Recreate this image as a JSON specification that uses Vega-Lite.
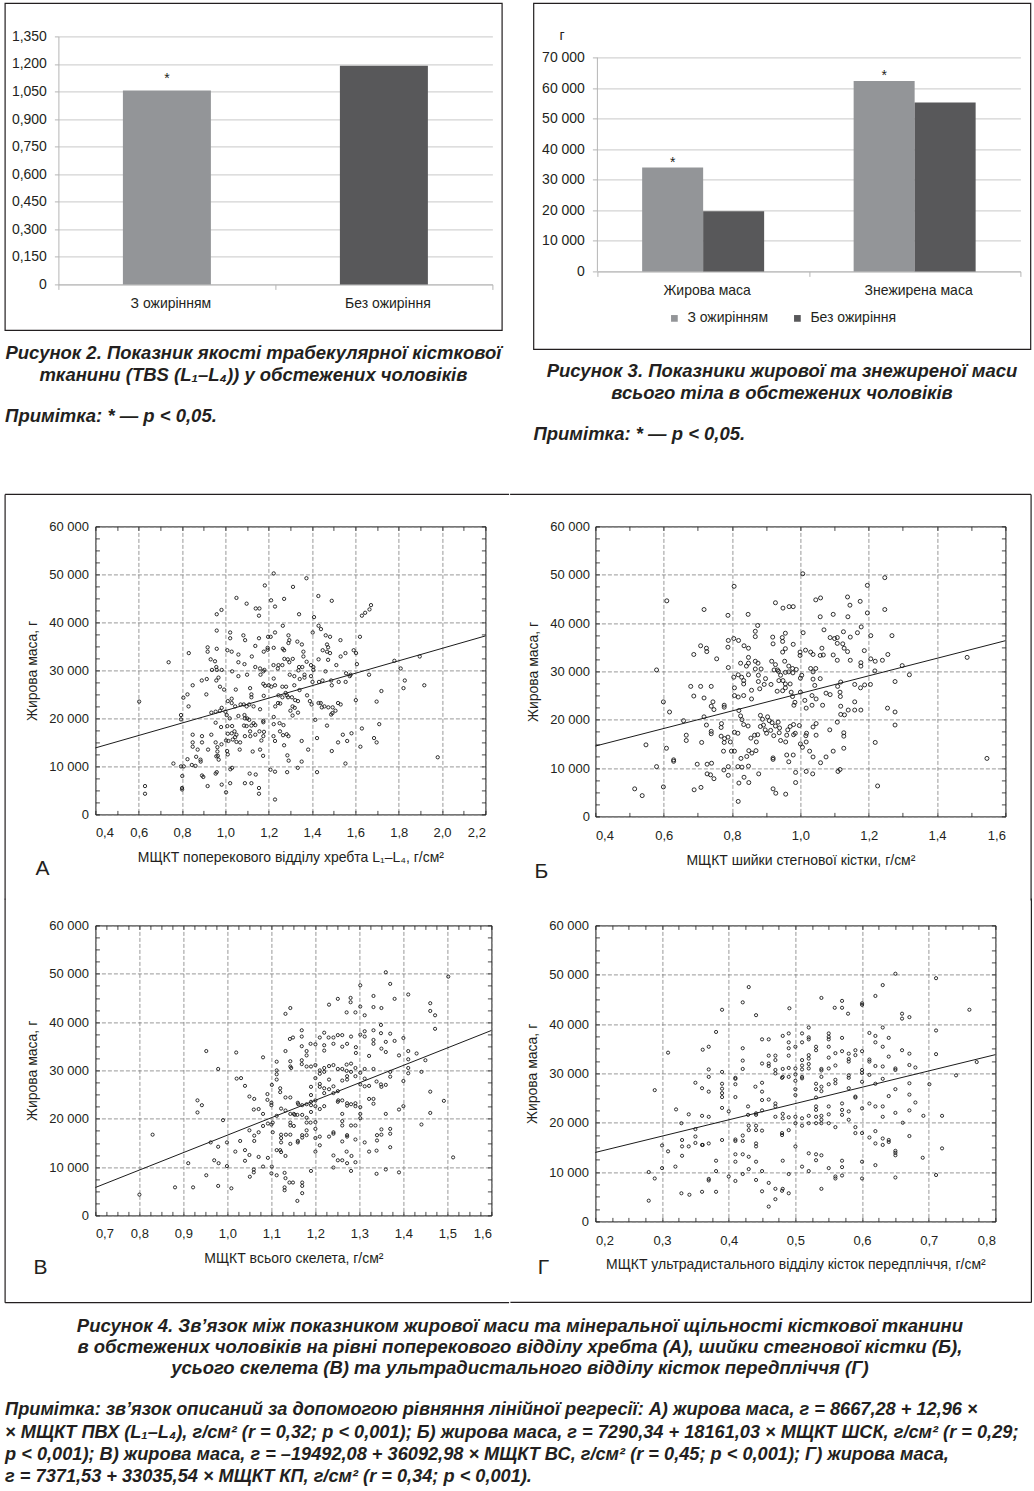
{
"$schema":"https://vega.github.io/schema/vega-lite/v6.json",
"background":"white",
"padding":{"left":3.4,"top":2.4,"right":4,"bottom":4},
"spacing":48,
"datasets":{
"A":[{"x":1.223,"y":50200},{"x":1.374,"y":49200},{"x":1.182,"y":47700},{"x":1.312,"y":47400},{"x":1.051,"y":45100},{"x":1.098,"y":43900},{"x":1.14,"y":42900},{"x":1.157,"y":42900},{"x":1.155,"y":41400},{"x":1.211,"y":44600},{"x":1.229,"y":43300},{"x":1.271,"y":44900},{"x":1.429,"y":45500},{"x":1.491,"y":44500},{"x":1.34,"y":41700},{"x":0.96,"y":41700},{"x":0.982,"y":42600},{"x":1.672,"y":43600},{"x":1.665,"y":42700},{"x":1.645,"y":42000},{"x":1.63,"y":41400},{"x":1.409,"y":41100},{"x":1.265,"y":39300},{"x":1.43,"y":39300},{"x":1.441,"y":38600},{"x":1.403,"y":37900},{"x":0.96,"y":38300},{"x":1.022,"y":37900},{"x":1.022,"y":36700},{"x":1.083,"y":37300},{"x":1.091,"y":36300},{"x":1.155,"y":36700},{"x":1.197,"y":37000},{"x":1.209,"y":37000},{"x":1.229,"y":37900},{"x":1.291,"y":37300},{"x":1.295,"y":36300},{"x":1.291,"y":35700},{"x":1.332,"y":36000},{"x":1.353,"y":35400},{"x":1.463,"y":37300},{"x":1.483,"y":37000},{"x":1.531,"y":36300},{"x":1.469,"y":35400},{"x":1.474,"y":34800},{"x":1.621,"y":37000},{"x":0.918,"y":34800},{"x":0.918,"y":33900},{"x":0.96,"y":34500},{"x":0.831,"y":33600},{"x":1.009,"y":34200},{"x":1.029,"y":33900},{"x":1.138,"y":35100},{"x":1.177,"y":33900},{"x":1.195,"y":34700},{"x":1.195,"y":34300},{"x":1.223,"y":34700},{"x":1.265,"y":34500},{"x":1.271,"y":34200},{"x":1.311,"y":32400},{"x":1.288,"y":32300},{"x":1.36,"y":33900},{"x":1.36,"y":32900},{"x":1.375,"y":31800},{"x":1.449,"y":34200},{"x":1.469,"y":33900},{"x":1.483,"y":33600},{"x":1.532,"y":32900},{"x":1.554,"y":33600},{"x":1.592,"y":34200},{"x":1.603,"y":33600},{"x":1.474,"y":32200},{"x":1.43,"y":32300},{"x":1.06,"y":33300},{"x":1.122,"y":32900},{"x":0.932,"y":32300},{"x":0.952,"y":31900},{"x":0.738,"y":31700},{"x":1.06,"y":31700},{"x":1.088,"y":31300},{"x":1.222,"y":31100},{"x":1.245,"y":31100},{"x":1.263,"y":31100},{"x":1.242,"y":30400},{"x":1.272,"y":32400},{"x":1.295,"y":31700},{"x":1.34,"y":30700},{"x":1.355,"y":30700},{"x":1.337,"y":30000},{"x":1.395,"y":31100},{"x":1.406,"y":30700},{"x":1.406,"y":30100},{"x":1.512,"y":31100},{"x":1.607,"y":31300},{"x":1.78,"y":32000},{"x":1.897,"y":32900},{"x":1.809,"y":30400},{"x":0.958,"y":30700},{"x":0.96,"y":30100},{"x":0.938,"y":30100},{"x":0.983,"y":30100},{"x":1.031,"y":29800},{"x":1.138,"y":30700},{"x":1.16,"y":30400},{"x":1.18,"y":30100},{"x":1.162,"y":29100},{"x":1.175,"y":29800},{"x":1.06,"y":28800},{"x":1.1,"y":29100},{"x":1.297,"y":29100},{"x":1.318,"y":28800},{"x":1.365,"y":29100},{"x":1.395,"y":28800},{"x":1.462,"y":29800},{"x":1.557,"y":29400},{"x":1.574,"y":28800},{"x":1.578,"y":29100},{"x":1.663,"y":29100},{"x":0.968,"y":28500},{"x":0.958,"y":27900},{"x":0.891,"y":27900},{"x":0.914,"y":28200},{"x":0.849,"y":26900},{"x":0.994,"y":26000},{"x":1.048,"y":26000},{"x":1.114,"y":26300},{"x":1.12,"y":25000},{"x":1.12,"y":24400},{"x":1.223,"y":28300},{"x":1.175,"y":27200},{"x":1.183,"y":26800},{"x":1.2,"y":26900},{"x":1.212,"y":26600},{"x":1.229,"y":26900},{"x":1.263,"y":26600},{"x":1.28,"y":26600},{"x":1.318,"y":26900},{"x":1.343,"y":28200},{"x":1.365,"y":28500},{"x":1.342,"y":25900},{"x":1.402,"y":27600},{"x":1.432,"y":27600},{"x":1.448,"y":27900},{"x":1.488,"y":27900},{"x":1.491,"y":26900},{"x":1.523,"y":27600},{"x":1.555,"y":27600},{"x":1.72,"y":25700},{"x":1.828,"y":27900},{"x":1.822,"y":26300},{"x":1.918,"y":26900},{"x":0.806,"y":24300},{"x":0.825,"y":25000},{"x":0.83,"y":22500},{"x":0.912,"y":25000},{"x":0.975,"y":26600},{"x":1.011,"y":23600},{"x":1.029,"y":24100},{"x":1.029,"y":23200},{"x":1.045,"y":22500},{"x":1.07,"y":22900},{"x":1.085,"y":22900},{"x":1.098,"y":22500},{"x":1.11,"y":22900},{"x":1.13,"y":22500},{"x":1.177,"y":24700},{"x":1.245,"y":24800},{"x":1.263,"y":24400},{"x":1.278,"y":25300},{"x":1.284,"y":24800},{"x":1.289,"y":24400},{"x":1.307,"y":24400},{"x":1.322,"y":23800},{"x":1.335,"y":23600},{"x":1.377,"y":24800},{"x":1.39,"y":23600},{"x":1.398,"y":22900},{"x":1.23,"y":22500},{"x":1.243,"y":23200},{"x":1.253,"y":23100},{"x":1.31,"y":22500},{"x":1.32,"y":22200},{"x":1.3,"y":21600},{"x":1.31,"y":20600},{"x":1.335,"y":21200},{"x":1.43,"y":23200},{"x":1.44,"y":23200},{"x":1.445,"y":22300},{"x":1.457,"y":22500},{"x":1.475,"y":22300},{"x":1.495,"y":22300},{"x":1.508,"y":21600},{"x":1.52,"y":23200},{"x":1.532,"y":22900},{"x":1.488,"y":20800},{"x":1.494,"y":21100},{"x":1.602,"y":23800},{"x":1.698,"y":23500},{"x":1.71,"y":18800},{"x":0.795,"y":20700},{"x":0.795,"y":19800},{"x":0.935,"y":21200},{"x":0.955,"y":21400},{"x":0.983,"y":22200},{"x":0.975,"y":21600},{"x":1.0,"y":21400},{"x":1.006,"y":20700},{"x":1.02,"y":20000},{"x":1.088,"y":20700},{"x":1.1,"y":20000},{"x":1.09,"y":20000},{"x":1.06,"y":20500},{"x":1.16,"y":21900},{"x":1.223,"y":20300},{"x":1.11,"y":19700},{"x":1.13,"y":19000},{"x":1.138,"y":18600},{"x":1.12,"y":18500},{"x":1.098,"y":18400},{"x":1.086,"y":18500},{"x":1.175,"y":19500},{"x":1.175,"y":19200},{"x":1.223,"y":18800},{"x":1.25,"y":19000},{"x":1.268,"y":18600},{"x":1.252,"y":17300},{"x":1.266,"y":16500},{"x":1.283,"y":16700},{"x":1.291,"y":16300},{"x":1.415,"y":19700},{"x":1.469,"y":18500},{"x":0.955,"y":19100},{"x":0.98,"y":18200},{"x":1.009,"y":18400},{"x":1.031,"y":18400},{"x":1.042,"y":17300},{"x":1.051,"y":16600},{"x":1.045,"y":16100},{"x":1.034,"y":15600},{"x":1.051,"y":15100},{"x":1.011,"y":16800},{"x":1.029,"y":16900},{"x":1.014,"y":15300},{"x":1.003,"y":15400},{"x":1.068,"y":15000},{"x":1.09,"y":16300},{"x":1.114,"y":17300},{"x":1.115,"y":16300},{"x":1.138,"y":16600},{"x":1.157,"y":17300},{"x":1.178,"y":17200},{"x":1.175,"y":16300},{"x":1.166,"y":15400},{"x":0.849,"y":16600},{"x":0.849,"y":15000},{"x":0.849,"y":14100},{"x":0.892,"y":16300},{"x":0.892,"y":15000},{"x":0.935,"y":16600},{"x":0.92,"y":13500},{"x":0.872,"y":13500},{"x":0.865,"y":12000},{"x":0.885,"y":11400},{"x":0.886,"y":11000},{"x":0.825,"y":11500},{"x":0.845,"y":10300},{"x":0.862,"y":10100},{"x":0.76,"y":10600},{"x":0.795,"y":10000},{"x":0.808,"y":10000},{"x":0.801,"y":8000},{"x":0.8,"y":5500},{"x":0.8,"y":5200},{"x":0.955,"y":15000},{"x":0.963,"y":14000},{"x":0.963,"y":13100},{"x":0.965,"y":12200},{"x":0.958,"y":12100},{"x":0.969,"y":11400},{"x":0.982,"y":14600},{"x":1.008,"y":13200},{"x":1.011,"y":12500},{"x":1.066,"y":13500},{"x":1.126,"y":13100},{"x":1.16,"y":13500},{"x":1.174,"y":12200},{"x":1.229,"y":15300},{"x":1.222,"y":16300},{"x":1.271,"y":14400},{"x":1.286,"y":12300},{"x":1.292,"y":11200},{"x":1.352,"y":15300},{"x":1.382,"y":13500},{"x":1.352,"y":11000},{"x":1.423,"y":15900},{"x":1.491,"y":13200},{"x":1.52,"y":15000},{"x":1.542,"y":16600},{"x":1.562,"y":15300},{"x":1.582,"y":16900},{"x":1.623,"y":14100},{"x":1.63,"y":17900},{"x":1.686,"y":15900},{"x":1.698,"y":15000},{"x":1.554,"y":10600},{"x":1.98,"y":11900},{"x":0.602,"y":23500},{"x":0.629,"y":5900},{"x":0.629,"y":4300},{"x":0.892,"y":8100},{"x":0.898,"y":7800},{"x":0.918,"y":5900},{"x":0.955,"y":8500},{"x":0.96,"y":8800},{"x":0.983,"y":6200},{"x":1.003,"y":4600},{"x":1.022,"y":6500},{"x":1.023,"y":9400},{"x":1.031,"y":9700},{"x":1.09,"y":6500},{"x":1.112,"y":8500},{"x":1.12,"y":6500},{"x":1.14,"y":8300},{"x":1.155,"y":5500},{"x":1.155,"y":4300},{"x":1.208,"y":9300},{"x":1.229,"y":8900},{"x":1.229,"y":3100},{"x":1.285,"y":8800},{"x":1.334,"y":9700},{"x":1.423,"y":8800}],
"B":[{"x":1.007,"y":50200},{"x":1.247,"y":49400},{"x":0.806,"y":47600},{"x":1.196,"y":47800},{"x":0.609,"y":44600},{"x":0.718,"y":42800},{"x":0.788,"y":41600},{"x":0.847,"y":41800},{"x":0.927,"y":44200},{"x":0.949,"y":43100},{"x":0.967,"y":43400},{"x":0.979,"y":43400},{"x":1.045,"y":44800},{"x":1.059,"y":45200},{"x":1.058,"y":41300},{"x":1.096,"y":41800},{"x":1.138,"y":45400},{"x":1.145,"y":43700},{"x":1.175,"y":44500},{"x":1.196,"y":42100},{"x":1.139,"y":41300},{"x":1.247,"y":42800},{"x":0.875,"y":39500},{"x":0.868,"y":38300},{"x":0.868,"y":37200},{"x":0.919,"y":37100},{"x":0.92,"y":35700},{"x":0.948,"y":36200},{"x":0.956,"y":37900},{"x":0.947,"y":37000},{"x":1.008,"y":38000},{"x":0.789,"y":36400},{"x":0.805,"y":36800},{"x":0.819,"y":36400},{"x":0.788,"y":35000},{"x":0.835,"y":35300},{"x":0.848,"y":34800},{"x":0.848,"y":32900},{"x":0.708,"y":35300},{"x":0.725,"y":34800},{"x":0.726,"y":34100},{"x":0.688,"y":33500},{"x":0.755,"y":32600},{"x":0.948,"y":34000},{"x":0.956,"y":34700},{"x":0.979,"y":35600},{"x":0.999,"y":34000},{"x":0.999,"y":33300},{"x":1.015,"y":34400},{"x":1.03,"y":34000},{"x":1.037,"y":33500},{"x":1.063,"y":34800},{"x":1.058,"y":33300},{"x":1.067,"y":33400},{"x":1.069,"y":38600},{"x":1.087,"y":37000},{"x":1.1,"y":36800},{"x":1.108,"y":37000},{"x":1.108,"y":35800},{"x":1.126,"y":38200},{"x":1.124,"y":35700},{"x":1.128,"y":34800},{"x":1.138,"y":34100},{"x":1.146,"y":37100},{"x":1.178,"y":39200},{"x":1.167,"y":38000},{"x":1.096,"y":33400},{"x":1.108,"y":32300},{"x":1.146,"y":32300},{"x":1.187,"y":34300},{"x":1.206,"y":37400},{"x":1.206,"y":32600},{"x":1.219,"y":32100},{"x":1.24,"y":32300},{"x":1.256,"y":33500},{"x":1.268,"y":37400},{"x":1.177,"y":31800},{"x":1.177,"y":31100},{"x":1.218,"y":30100},{"x":1.298,"y":31200},{"x":1.319,"y":29300},{"x":1.488,"y":32900},{"x":1.546,"y":12000},{"x":0.579,"y":30300},{"x":0.789,"y":30800},{"x":0.805,"y":28800},{"x":0.818,"y":29300},{"x":0.828,"y":28800},{"x":0.848,"y":29300},{"x":0.825,"y":31700},{"x":0.842,"y":31100},{"x":0.848,"y":31700},{"x":0.868,"y":32100},{"x":0.876,"y":31700},{"x":0.868,"y":30500},{"x":0.885,"y":30500},{"x":0.877,"y":29200},{"x":0.916,"y":32100},{"x":0.923,"y":30300},{"x":0.933,"y":30300},{"x":0.927,"y":31400},{"x":0.936,"y":30000},{"x":0.942,"y":29200},{"x":0.954,"y":32100},{"x":0.966,"y":31100},{"x":0.977,"y":30600},{"x":0.988,"y":30400},{"x":0.956,"y":29800},{"x":0.966,"y":29900},{"x":0.978,"y":29700},{"x":1.03,"y":30600},{"x":1.037,"y":29900},{"x":1.045,"y":30600},{"x":1.0,"y":28600},{"x":1.004,"y":29200},{"x":1.037,"y":28400},{"x":1.042,"y":27100},{"x":1.058,"y":28500},{"x":0.937,"y":28100},{"x":0.949,"y":28100},{"x":0.956,"y":27400},{"x":0.898,"y":28500},{"x":0.894,"y":27300},{"x":0.914,"y":27300},{"x":0.877,"y":27900},{"x":0.881,"y":26400},{"x":0.834,"y":28100},{"x":0.834,"y":27400},{"x":0.807,"y":26600},{"x":0.807,"y":25000},{"x":0.818,"y":24700},{"x":0.834,"y":25000},{"x":0.857,"y":26100},{"x":0.857,"y":24300},{"x":0.932,"y":25900},{"x":0.948,"y":26000},{"x":0.956,"y":26600},{"x":0.97,"y":27400},{"x":0.973,"y":25700},{"x":0.977,"y":24800},{"x":0.984,"y":23600},{"x":0.981,"y":23000},{"x":1.0,"y":25700},{"x":1.013,"y":24000},{"x":1.017,"y":22400},{"x":1.034,"y":25000},{"x":1.034,"y":23000},{"x":1.046,"y":24300},{"x":1.075,"y":25500},{"x":1.087,"y":25200},{"x":1.109,"y":26900},{"x":1.118,"y":27800},{"x":1.116,"y":25700},{"x":1.117,"y":24800},{"x":1.159,"y":27300},{"x":1.176,"y":26600},{"x":1.188,"y":27200},{"x":1.205,"y":27300},{"x":1.159,"y":23700},{"x":1.177,"y":22000},{"x":1.159,"y":22000},{"x":1.118,"y":22800},{"x":1.118,"y":21100},{"x":1.14,"y":22000},{"x":1.129,"y":21000},{"x":1.065,"y":23000},{"x":1.255,"y":22400},{"x":1.277,"y":21600},{"x":1.277,"y":18900},{"x":1.277,"y":27900},{"x":0.679,"y":26900},{"x":0.708,"y":26900},{"x":0.739,"y":26900},{"x":0.688,"y":24900},{"x":0.718,"y":24500},{"x":0.599,"y":23700},{"x":0.617,"y":21600},{"x":0.739,"y":22800},{"x":0.747,"y":22100},{"x":0.744,"y":23700},{"x":0.777,"y":23000},{"x":0.777,"y":22600},{"x":0.718,"y":20600},{"x":0.658,"y":19800},{"x":0.725,"y":18900},{"x":0.739,"y":17600},{"x":0.739,"y":17100},{"x":0.769,"y":19200},{"x":0.768,"y":18400},{"x":0.768,"y":16600},{"x":0.778,"y":16100},{"x":0.788,"y":16400},{"x":0.777,"y":15300},{"x":0.795,"y":15400},{"x":0.775,"y":13500},{"x":0.798,"y":13500},{"x":0.82,"y":21900},{"x":0.825,"y":20800},{"x":0.829,"y":20000},{"x":0.834,"y":19000},{"x":0.847,"y":18700},{"x":0.807,"y":17400},{"x":0.817,"y":17200},{"x":0.855,"y":16200},{"x":0.866,"y":16800},{"x":0.875,"y":16900},{"x":0.871,"y":15400},{"x":0.883,"y":20900},{"x":0.889,"y":20100},{"x":0.883,"y":18600},{"x":0.892,"y":18900},{"x":0.897,"y":17900},{"x":0.901,"y":17200},{"x":0.904,"y":20600},{"x":0.909,"y":19800},{"x":0.917,"y":19400},{"x":0.913,"y":17800},{"x":0.927,"y":18700},{"x":0.935,"y":19500},{"x":0.939,"y":18300},{"x":0.922,"y":16700},{"x":0.938,"y":17300},{"x":0.942,"y":15700},{"x":0.96,"y":16800},{"x":0.957,"y":15400},{"x":0.963,"y":17900},{"x":0.97,"y":18600},{"x":0.98,"y":19000},{"x":0.985,"y":17200},{"x":0.98,"y":16900},{"x":0.997,"y":18800},{"x":1.0,"y":15000},{"x":1.006,"y":14300},{"x":1.017,"y":15400},{"x":1.016,"y":16700},{"x":1.018,"y":17200},{"x":1.037,"y":18500},{"x":1.046,"y":19200},{"x":1.046,"y":16800},{"x":1.027,"y":13500},{"x":1.086,"y":17900},{"x":1.108,"y":19500},{"x":1.127,"y":17300},{"x":1.127,"y":16600},{"x":1.127,"y":14100},{"x":1.096,"y":13500},{"x":1.075,"y":12300},{"x":0.979,"y":12700},{"x":0.96,"y":12700},{"x":0.966,"y":11300},{"x":0.92,"y":12100},{"x":0.92,"y":11800},{"x":0.849,"y":13600},{"x":0.843,"y":12400},{"x":0.858,"y":13100},{"x":0.87,"y":13600},{"x":0.826,"y":12000},{"x":0.817,"y":10300},{"x":0.829,"y":10200},{"x":0.848,"y":10400},{"x":0.807,"y":13500},{"x":0.789,"y":10300},{"x":0.776,"y":9600},{"x":0.789,"y":8500},{"x":0.74,"y":11000},{"x":0.727,"y":10800},{"x":0.698,"y":10800},{"x":0.727,"y":8800},{"x":0.737,"y":8600},{"x":0.747,"y":7800},{"x":0.711,"y":15300},{"x":0.666,"y":16800},{"x":0.666,"y":15700},{"x":0.629,"y":11700},{"x":0.629,"y":11400},{"x":0.579,"y":10300},{"x":0.548,"y":14800},{"x":0.608,"y":14100},{"x":0.515,"y":5700},{"x":0.537,"y":4300},{"x":0.599,"y":6100},{"x":0.689,"y":5500},{"x":0.709,"y":6000},{"x":0.82,"y":6900},{"x":0.835,"y":8100},{"x":0.849,"y":7000},{"x":0.818,"y":3100},{"x":0.878,"y":8800},{"x":0.92,"y":5700},{"x":0.928,"y":4800},{"x":0.957,"y":4600},{"x":0.986,"y":9100},{"x":0.986,"y":7000},{"x":1.017,"y":9300},{"x":1.036,"y":8800},{"x":1.037,"y":12300},{"x":1.059,"y":11100},{"x":1.11,"y":9300},{"x":1.116,"y":9700},{"x":1.219,"y":15300},{"x":1.226,"y":6300}],
"V":[{"x":1.36,"y":50300},{"x":1.502,"y":49400},{"x":1.37,"y":47900},{"x":1.302,"y":47600},{"x":1.411,"y":45700},{"x":1.38,"y":44800},{"x":1.251,"y":44800},{"x":1.28,"y":45000},{"x":1.28,"y":44100},{"x":1.231,"y":43600},{"x":1.271,"y":42000},{"x":1.291,"y":42000},{"x":1.302,"y":43200},{"x":1.312,"y":41400},{"x":1.332,"y":45400},{"x":1.332,"y":43100},{"x":1.35,"y":42900},{"x":1.461,"y":43900},{"x":1.461,"y":42300},{"x":1.472,"y":41400},{"x":1.472,"y":38600},{"x":1.132,"y":41700},{"x":1.143,"y":42900},{"x":0.952,"y":34000},{"x":1.02,"y":33700},{"x":0.979,"y":30300},{"x":1.142,"y":36500},{"x":1.149,"y":36800},{"x":1.169,"y":38300},{"x":1.169,"y":37000},{"x":1.169,"y":35000},{"x":1.169,"y":32100},{"x":1.169,"y":31300},{"x":1.132,"y":34000},{"x":1.112,"y":31800},{"x":1.081,"y":32700},{"x":1.143,"y":31900},{"x":1.143,"y":30800},{"x":1.145,"y":30500},{"x":1.189,"y":35500},{"x":1.2,"y":35400},{"x":1.18,"y":34000},{"x":1.18,"y":33100},{"x":1.21,"y":36800},{"x":1.22,"y":37800},{"x":1.23,"y":36800},{"x":1.241,"y":36800},{"x":1.251,"y":37300},{"x":1.261,"y":37300},{"x":1.241,"y":35500},{"x":1.22,"y":35200},{"x":1.22,"y":34100},{"x":1.261,"y":34900},{"x":1.272,"y":35500},{"x":1.281,"y":37000},{"x":1.292,"y":34800},{"x":1.292,"y":33600},{"x":1.302,"y":37400},{"x":1.312,"y":38100},{"x":1.312,"y":37000},{"x":1.322,"y":33000},{"x":1.332,"y":38300},{"x":1.332,"y":36300},{"x":1.332,"y":35500},{"x":1.349,"y":39400},{"x":1.349,"y":37700},{"x":1.36,"y":35900},{"x":1.35,"y":34500},{"x":1.36,"y":33800},{"x":1.37,"y":37600},{"x":1.38,"y":36100},{"x":1.39,"y":33100},{"x":1.4,"y":36700},{"x":1.411,"y":34000},{"x":1.411,"y":32300},{"x":1.43,"y":33500},{"x":1.45,"y":32100},{"x":1.4,"y":27800},{"x":1.411,"y":30500},{"x":1.411,"y":29400},{"x":1.441,"y":29700},{"x":1.461,"y":25600},{"x":1.492,"y":23700},{"x":1.461,"y":21200},{"x":1.441,"y":18800},{"x":1.4,"y":22600},{"x":1.39,"y":21900},{"x":1.36,"y":21000},{"x":1.513,"y":12000},{"x":1.39,"y":8900},{"x":1.36,"y":9500},{"x":1.339,"y":8600},{"x":1.37,"y":14100},{"x":1.37,"y":16900},{"x":1.37,"y":17900},{"x":1.35,"y":17800},{"x":1.35,"y":16700},{"x":1.34,"y":16600},{"x":1.34,"y":15500},{"x":1.339,"y":13400},{"x":1.322,"y":13200},{"x":1.312,"y":15100},{"x":1.291,"y":15700},{"x":1.291,"y":11000},{"x":1.282,"y":12300},{"x":1.272,"y":10800},{"x":1.281,"y":9200},{"x":1.261,"y":11400},{"x":1.271,"y":13200},{"x":1.261,"y":15300},{"x":1.241,"y":12400},{"x":1.251,"y":11400},{"x":1.241,"y":9900},{"x":1.281,"y":18600},{"x":1.291,"y":18600},{"x":1.261,"y":19500},{"x":1.261,"y":18600},{"x":1.272,"y":16600},{"x":1.272,"y":16300},{"x":1.231,"y":16300},{"x":1.241,"y":16900},{"x":1.241,"y":17200},{"x":1.21,"y":14500},{"x":1.21,"y":16300},{"x":1.2,"y":16000},{"x":1.2,"y":13200},{"x":1.19,"y":9200},{"x":1.189,"y":19200},{"x":1.2,"y":19300},{"x":1.2,"y":17900},{"x":1.18,"y":17600},{"x":1.18,"y":16600},{"x":1.17,"y":16600},{"x":1.17,"y":16100},{"x":1.16,"y":15400},{"x":1.16,"y":15100},{"x":1.17,"y":20800},{"x":1.18,"y":20200},{"x":1.18,"y":19200},{"x":1.143,"y":19200},{"x":1.143,"y":18600},{"x":1.151,"y":18500},{"x":1.153,"y":20800},{"x":1.159,"y":20800},{"x":1.133,"y":16700},{"x":1.143,"y":16700},{"x":1.143,"y":14800},{"x":1.122,"y":16700},{"x":1.122,"y":16000},{"x":1.122,"y":15100},{"x":1.12,"y":13500},{"x":1.122,"y":13100},{"x":1.112,"y":13500},{"x":1.132,"y":12300},{"x":1.103,"y":19200},{"x":1.103,"y":17200},{"x":1.092,"y":19000},{"x":1.1,"y":18800},{"x":1.081,"y":21000},{"x":1.081,"y":18500},{"x":1.071,"y":17200},{"x":1.061,"y":16500},{"x":1.061,"y":15400},{"x":1.05,"y":17600},{"x":1.029,"y":15400},{"x":1.04,"y":13500},{"x":1.04,"y":11300},{"x":1.05,"y":12500},{"x":1.018,"y":13200},{"x":0.999,"y":15100},{"x":0.979,"y":14200},{"x":0.962,"y":15100},{"x":0.97,"y":11400},{"x":0.98,"y":10800},{"x":0.999,"y":10200},{"x":1.009,"y":5600},{"x":0.99,"y":19700},{"x":1.021,"y":28300},{"x":1.04,"y":26800},{"x":1.05,"y":24600},{"x":1.061,"y":24100},{"x":1.071,"y":22000},{"x":1.06,"y":21900},{"x":1.091,"y":23900},{"x":1.091,"y":25100},{"x":1.112,"y":30000},{"x":1.112,"y":29200},{"x":1.112,"y":28100},{"x":1.101,"y":27000},{"x":1.12,"y":26300},{"x":1.12,"y":25500},{"x":1.132,"y":24400},{"x":1.143,"y":24400},{"x":1.122,"y":22100},{"x":1.132,"y":21700},{"x":1.143,"y":21000},{"x":1.151,"y":21000},{"x":1.1,"y":23300},{"x":1.1,"y":22800},{"x":1.112,"y":20600},{"x":1.16,"y":23300},{"x":1.161,"y":23000},{"x":1.17,"y":22800},{"x":1.18,"y":23000},{"x":1.19,"y":22800},{"x":1.19,"y":23500},{"x":1.19,"y":21400},{"x":1.2,"y":28400},{"x":1.21,"y":27200},{"x":1.21,"y":26600},{"x":1.22,"y":26300},{"x":1.22,"y":25300},{"x":1.19,"y":26600},{"x":1.19,"y":24900},{"x":1.2,"y":23800},{"x":1.2,"y":22600},{"x":1.21,"y":22000},{"x":1.22,"y":22600},{"x":1.231,"y":28100},{"x":1.231,"y":26100},{"x":1.241,"y":26700},{"x":1.241,"y":25300},{"x":1.251,"y":25700},{"x":1.252,"y":23800},{"x":1.251,"y":23500},{"x":1.261,"y":23800},{"x":1.261,"y":21000},{"x":1.272,"y":23200},{"x":1.272,"y":22700},{"x":1.281,"y":23000},{"x":1.291,"y":23200},{"x":1.291,"y":22600},{"x":1.302,"y":22400},{"x":1.302,"y":21000},{"x":1.302,"y":20100},{"x":1.261,"y":27900},{"x":1.272,"y":28100},{"x":1.272,"y":28800},{"x":1.281,"y":29700},{"x":1.291,"y":28800},{"x":1.302,"y":29500},{"x":1.302,"y":27100},{"x":1.312,"y":28300},{"x":1.312,"y":26700},{"x":1.322,"y":26800},{"x":1.312,"y":30300},{"x":1.332,"y":30300},{"x":1.261,"y":30300},{"x":1.271,"y":29900},{"x":1.271,"y":31200},{"x":1.291,"y":30500},{"x":1.281,"y":31400},{"x":1.251,"y":30300},{"x":1.241,"y":31100},{"x":1.231,"y":30900},{"x":1.22,"y":30500},{"x":1.21,"y":29300},{"x":1.2,"y":31100},{"x":1.19,"y":30800},{"x":1.18,"y":30800},{"x":1.21,"y":30000},{"x":1.22,"y":29700},{"x":1.339,"y":27700},{"x":1.349,"y":27100},{"x":1.36,"y":27000},{"x":1.322,"y":24100},{"x":1.332,"y":24100},{"x":1.332,"y":23100},{"x":1.35,"y":26600},{"x":1.37,"y":28700},{"x":1.37,"y":29700},{"x":1.13,"y":8800},{"x":1.132,"y":7700},{"x":1.13,"y":5800},{"x":1.13,"y":5200},{"x":1.141,"y":6800},{"x":1.149,"y":6800},{"x":1.17,"y":6800},{"x":1.17,"y":6100},{"x":1.17,"y":4600},{"x":1.159,"y":3000},{"x":1.1,"y":8700},{"x":1.112,"y":8300},{"x":1.101,"y":10100},{"x":1.081,"y":10100},{"x":1.06,"y":9500},{"x":1.06,"y":8900},{"x":1.051,"y":8000},{"x":1.071,"y":12100},{"x":1.092,"y":11900},{"x":0.8,"y":4300},{"x":0.83,"y":16700},{"x":0.881,"y":5800},{"x":0.922,"y":5800},{"x":0.911,"y":10800},{"x":0.952,"y":8300},{"x":0.979,"y":6100},{"x":0.932,"y":23800},{"x":0.942,"y":22800},{"x":0.932,"y":21300},{"x":1.031,"y":28400}],
"G":[{"x":0.65,"y":50200},{"x":0.711,"y":49300},{"x":0.631,"y":47900},{"x":0.43,"y":47500},{"x":0.421,"y":44400},{"x":0.539,"y":45300},{"x":0.62,"y":45700},{"x":0.559,"y":43300},{"x":0.57,"y":44700},{"x":0.57,"y":43300},{"x":0.579,"y":42100},{"x":0.6,"y":43900},{"x":0.6,"y":44200},{"x":0.66,"y":42100},{"x":0.66,"y":41100},{"x":0.671,"y":41400},{"x":0.761,"y":42900},{"x":0.39,"y":42900},{"x":0.441,"y":41800},{"x":0.491,"y":43200},{"x":0.381,"y":38400},{"x":0.309,"y":34200},{"x":0.361,"y":34800},{"x":0.37,"y":35400},{"x":0.37,"y":30800},{"x":0.37,"y":29300},{"x":0.39,"y":30300},{"x":0.39,"y":27900},{"x":0.39,"y":26900},{"x":0.39,"y":26000},{"x":0.41,"y":29100},{"x":0.41,"y":27800},{"x":0.421,"y":35100},{"x":0.421,"y":32600},{"x":0.421,"y":30900},{"x":0.429,"y":23300},{"x":0.429,"y":21600},{"x":0.35,"y":28100},{"x":0.36,"y":27000},{"x":0.37,"y":26300},{"x":0.36,"y":21400},{"x":0.37,"y":21200},{"x":0.289,"y":26600},{"x":0.321,"y":22700},{"x":0.34,"y":21700},{"x":0.329,"y":19900},{"x":0.35,"y":18700},{"x":0.35,"y":17200},{"x":0.37,"y":15800},{"x":0.361,"y":15500},{"x":0.381,"y":12300},{"x":0.381,"y":10200},{"x":0.37,"y":8600},{"x":0.37,"y":8300},{"x":0.36,"y":6000},{"x":0.381,"y":6000},{"x":0.341,"y":5400},{"x":0.329,"y":5700},{"x":0.33,"y":16500},{"x":0.33,"y":15200},{"x":0.33,"y":13300},{"x":0.32,"y":11100},{"x":0.309,"y":14200},{"x":0.3,"y":15400},{"x":0.3,"y":10800},{"x":0.28,"y":10000},{"x":0.289,"y":8700},{"x":0.28,"y":4200},{"x":0.34,"y":15200},{"x":0.35,"y":15900},{"x":0.36,"y":15500},{"x":0.39,"y":25200},{"x":0.39,"y":23000},{"x":0.4,"y":22300},{"x":0.41,"y":25200},{"x":0.41,"y":28900},{"x":0.39,"y":16500},{"x":0.41,"y":16300},{"x":0.41,"y":16600},{"x":0.421,"y":17400},{"x":0.421,"y":16300},{"x":0.41,"y":13600},{"x":0.41,"y":12100},{"x":0.421,"y":13600},{"x":0.43,"y":13100},{"x":0.4,"y":9100},{"x":0.41,"y":8200},{"x":0.421,"y":9600},{"x":0.43,"y":10600},{"x":0.441,"y":8400},{"x":0.45,"y":10200},{"x":0.441,"y":12100},{"x":0.441,"y":15800},{"x":0.441,"y":15200},{"x":0.43,"y":19400},{"x":0.43,"y":18500},{"x":0.441,"y":19400},{"x":0.441,"y":18500},{"x":0.45,"y":18400},{"x":0.441,"y":21900},{"x":0.441,"y":21600},{"x":0.45,"y":22500},{"x":0.45,"y":24600},{"x":0.44,"y":27300},{"x":0.45,"y":26300},{"x":0.45,"y":28100},{"x":0.45,"y":32000},{"x":0.45,"y":36900},{"x":0.46,"y":36900},{"x":0.46,"y":33600},{"x":0.46,"y":32000},{"x":0.46,"y":31500},{"x":0.47,"y":33600},{"x":0.47,"y":32700},{"x":0.47,"y":30700},{"x":0.47,"y":30000},{"x":0.481,"y":37600},{"x":0.481,"y":30900},{"x":0.481,"y":29300},{"x":0.48,"y":29100},{"x":0.49,"y":38100},{"x":0.49,"y":36300},{"x":0.49,"y":35100},{"x":0.49,"y":33600},{"x":0.49,"y":31100},{"x":0.49,"y":29300},{"x":0.5,"y":35400},{"x":0.5,"y":31000},{"x":0.5,"y":29800},{"x":0.5,"y":28500},{"x":0.5,"y":26800},{"x":0.5,"y":25600},{"x":0.51,"y":38100},{"x":0.51,"y":36300},{"x":0.51,"y":32700},{"x":0.51,"y":31600},{"x":0.51,"y":30800},{"x":0.51,"y":29300},{"x":0.51,"y":29000},{"x":0.52,"y":39300},{"x":0.52,"y":37300},{"x":0.52,"y":36900},{"x":0.52,"y":33700},{"x":0.52,"y":33000},{"x":0.52,"y":31900},{"x":0.52,"y":31000},{"x":0.531,"y":35400},{"x":0.531,"y":34700},{"x":0.531,"y":27900},{"x":0.531,"y":26800},{"x":0.531,"y":25100},{"x":0.539,"y":30900},{"x":0.539,"y":30600},{"x":0.539,"y":29300},{"x":0.539,"y":27300},{"x":0.539,"y":26400},{"x":0.55,"y":38100},{"x":0.55,"y":37400},{"x":0.55,"y":36900},{"x":0.55,"y":35400},{"x":0.55,"y":33200},{"x":0.55,"y":31000},{"x":0.55,"y":27800},{"x":0.56,"y":34100},{"x":0.56,"y":31600},{"x":0.56,"y":28700},{"x":0.56,"y":28000},{"x":0.57,"y":37200},{"x":0.57,"y":34500},{"x":0.58,"y":34000},{"x":0.58,"y":32900},{"x":0.58,"y":32400},{"x":0.58,"y":29600},{"x":0.58,"y":29100},{"x":0.58,"y":27000},{"x":0.59,"y":34700},{"x":0.59,"y":33700},{"x":0.59,"y":25300},{"x":0.59,"y":25100},{"x":0.6,"y":34500},{"x":0.6,"y":30700},{"x":0.6,"y":30100},{"x":0.6,"y":28300},{"x":0.6,"y":22900},{"x":0.611,"y":38200},{"x":0.611,"y":32800},{"x":0.611,"y":32400},{"x":0.611,"y":29700},{"x":0.62,"y":37600},{"x":0.62,"y":36300},{"x":0.62,"y":31500},{"x":0.62,"y":27900},{"x":0.631,"y":39300},{"x":0.631,"y":35400},{"x":0.631,"y":31400},{"x":0.631,"y":28900},{"x":0.631,"y":23300},{"x":0.64,"y":37200},{"x":0.64,"y":33400},{"x":0.64,"y":25400},{"x":0.65,"y":31000},{"x":0.65,"y":30700},{"x":0.65,"y":26800},{"x":0.66,"y":34700},{"x":0.671,"y":34000},{"x":0.671,"y":31700},{"x":0.68,"y":31200},{"x":0.671,"y":28000},{"x":0.671,"y":25700},{"x":0.68,"y":24100},{"x":0.671,"y":22500},{"x":0.701,"y":27800},{"x":0.741,"y":29600},{"x":0.772,"y":32300},{"x":0.711,"y":38700},{"x":0.711,"y":33900},{"x":0.692,"y":21400},{"x":0.72,"y":21400},{"x":0.72,"y":14800},{"x":0.691,"y":12900},{"x":0.711,"y":9400},{"x":0.65,"y":8900},{"x":0.661,"y":20000},{"x":0.65,"y":22000},{"x":0.65,"y":14300},{"x":0.65,"y":13900},{"x":0.65,"y":13400},{"x":0.671,"y":17300},{"x":0.64,"y":16500},{"x":0.64,"y":16100},{"x":0.631,"y":16800},{"x":0.631,"y":15500},{"x":0.62,"y":15800},{"x":0.62,"y":18300},{"x":0.631,"y":21200},{"x":0.611,"y":23900},{"x":0.62,"y":23300},{"x":0.611,"y":17000},{"x":0.6,"y":17900},{"x":0.59,"y":17900},{"x":0.59,"y":19100},{"x":0.58,"y":22300},{"x":0.58,"y":20600},{"x":0.57,"y":23900},{"x":0.57,"y":22600},{"x":0.57,"y":21600},{"x":0.56,"y":19100},{"x":0.55,"y":19900},{"x":0.55,"y":21700},{"x":0.55,"y":23300},{"x":0.539,"y":21400},{"x":0.539,"y":20600},{"x":0.539,"y":19900},{"x":0.531,"y":23300},{"x":0.531,"y":22600},{"x":0.531,"y":21200},{"x":0.531,"y":19900},{"x":0.52,"y":21400},{"x":0.52,"y":19900},{"x":0.51,"y":20900},{"x":0.51,"y":19400},{"x":0.5,"y":19900},{"x":0.5,"y":21200},{"x":0.49,"y":21100},{"x":0.481,"y":21800},{"x":0.481,"y":20900},{"x":0.47,"y":21200},{"x":0.49,"y":18500},{"x":0.48,"y":17900},{"x":0.48,"y":17500},{"x":0.47,"y":23300},{"x":0.47,"y":23900},{"x":0.46,"y":24700},{"x":0.5,"y":15200},{"x":0.51,"y":11100},{"x":0.52,"y":10200},{"x":0.52,"y":13800},{"x":0.531,"y":13600},{"x":0.531,"y":12400},{"x":0.539,"y":13400},{"x":0.539,"y":6600},{"x":0.55,"y":10800},{"x":0.56,"y":9100},{"x":0.56,"y":8700},{"x":0.57,"y":11000},{"x":0.57,"y":12300},{"x":0.57,"y":9300},{"x":0.6,"y":12100},{"x":0.6,"y":8700},{"x":0.62,"y":11400},{"x":0.49,"y":9600},{"x":0.481,"y":12300},{"x":0.47,"y":6600},{"x":0.47,"y":4500},{"x":0.46,"y":7800},{"x":0.46,"y":3000},{"x":0.481,"y":6600},{"x":0.48,"y":6200},{"x":0.49,"y":5700},{"x":0.45,"y":6100}],
"A_line":[{"x":0.4,"y":13851},{"x":2.2,"y":37179}],
"B_line":[{"x":0.4,"y":14555},{"x":1.6,"y":36348}],
"V_line":[{"x":0.7,"y":5773},{"x":1.6,"y":38257}],
"G_line":[{"x":0.2,"y":13979},{"x":0.8,"y":33800}]
},
"vconcat":[
{"hconcat":[
 {"width":1,"height":1,"data":{"values":[{}]},"mark":{"type":"point","opacity":0,"size":0,"strokeWidth":0},"encoding":{}},
 {"hconcat":[
 {"vconcat":[
  {"width":434,"height":248,
   "data":{"values":[{"group":"З ожирінням","tbs":1.055,"sig":"*"},{"group":"Без ожиріння","tbs":1.19,"sig":""}]},
   "resolve":{"scale":{"x":"independent","y":"independent"}},
   "layer":[
    {"data":{"values":[{}]},"mark":{"type":"rect","fill":"transparent","stroke":"#231f20","strokeWidth":1.2},
     "encoding":{
      "x":{"datum":-0.12281,"type":"quantitative","scale":{"domain":[0,1],"nice":false,"zero":false},"axis":{"orient":"bottom","values":[0,0.5,1],"labels":false,"ticks":true,"tickSize":5,"tickColor":"#b5b5b5","domain":true,"domainColor":"#b5b5b5","grid":false,"title":null}},
      "x2":{"datum":1.02235},
      "y":{"datum":-0.18548,"type":"quantitative","scale":{"domain":[0,1],"nice":false,"zero":false},"axis":null},
      "y2":{"datum":1.13306}}},
    {"resolve":{"axis":{"x":"independent","y":"independent"}},
     "layer":[
     {"mark":{"type":"bar"},
      "encoding":{
       "x":{"field":"group","type":"nominal","sort":null,"scale":{"paddingInner":0.5945,"paddingOuter":0.29725},"axis":{"orient":"bottom","title":null,"labelAngle":0,"ticks":false,"domain":false,"labelPadding":12,"labelFontSize":14,"labelOffset":4}},
       "y":{"field":"tbs","type":"quantitative","scale":{"domain":[0,1.35],"nice":false},"axis":{"orient":"left","title":null,"values":[0,0.15,0.3,0.45,0.6,0.75,0.9,1.05,1.2,1.35],"labelOverlap":false,"labelExpr":"datum.value == 0 ? '0' : replace(format(datum.value, '.3f'), '.', ',')","grid":true,"gridColor":"#c9c9c9","domainColor":"#b5b5b5","tickColor":"#b5b5b5","tickSize":4,"labelPadding":8,"labelFontSize":14}},
       "color":{"condition":{"test":"datum.group === 'З ожирінням'","value":"#939598"},"value":"#58585a"}}},
     {"mark":{"type":"text","baseline":"alphabetic","dy":-7.5,"fontSize":14,"color":"#231f20"},
      "encoding":{"x":{"field":"group","type":"nominal","sort":null,"axis":null},"y":{"field":"tbs","type":"quantitative","axis":null},"text":{"field":"sig"}}}
    ]}
   ]},
  {"vconcat":[
   {"width":390,"height":1,"data":{"values":[{}]},"mark":{"type":"point","opacity":0,"size":0,"strokeWidth":0},"encoding":{},
    "title":{"text":["Рисунок 2. Показник якості трабекулярної кісткової","тканини (TBS (L₁–L₄)) у обстежених чоловіків"],"orient":"top","anchor":"middle","frame":"group","offset":0,"dx":0,"fontSize":18.5,"fontStyle":"italic","fontWeight":"bold","lineHeight":21.5}},
   {"width":390,"height":1,"data":{"values":[{}]},"mark":{"type":"point","opacity":0,"size":0,"strokeWidth":0},"encoding":{},
    "title":{"text":"Примітка: * — p < 0,05.","orient":"top","anchor":"start","frame":"group","offset":0,"dx":-53.3,"fontSize":18.5,"fontStyle":"italic","fontWeight":"bold"}}
  ],"spacing":21}
 ],"spacing":13},
 {"vconcat":[
  {"width":423,"height":235,
   "data":{"values":[{"part":"Жирова маса","grp":"З ожирінням","mass":34000,"sig":"*"},{"part":"Жирова маса","grp":"Без ожиріння","mass":19700,"sig":""},{"part":"Знежирена маса","grp":"З ожирінням","mass":62400,"sig":"*"},{"part":"Знежирена маса","grp":"Без ожиріння","mass":55300,"sig":""}]},
   "resolve":{"scale":{"x":"independent","y":"independent"}},
   "layer":[
    {"data":{"values":[{}]},"mark":{"type":"rect","fill":"transparent","stroke":"#231f20","strokeWidth":1.2},
     "encoding":{
      "x":{"datum":-0.15059,"type":"quantitative","scale":{"domain":[0,1],"nice":false,"zero":false},"axis":{"orient":"bottom","values":[0,0.5,1],"labels":false,"ticks":true,"tickSize":5,"tickColor":"#b5b5b5","domain":true,"domainColor":"#b5b5b5","grid":false,"title":null}},
      "x2":{"datum":1.02435},
      "y":{"datum":-0.33191,"type":"quantitative","scale":{"domain":[0,1],"nice":false,"zero":false},"axis":null},
      "y2":{"datum":1.14043}}},
    {"data":{"values":[{}]},"mark":{"type":"rule","color":"#b5b5b5","strokeWidth":1},
     "encoding":{
      "x":{"datum":0,"type":"quantitative","scale":{"domain":[0,1],"nice":false,"zero":false},"axis":null},
      "y":{"datum":0,"type":"quantitative","scale":{"domain":[0,1],"nice":false,"zero":false},"axis":null},
      "y2":{"datum":0.90936}}},
    {"resolve":{"axis":{"x":"independent","y":"independent"}},
     "layer":[
     {"mark":{"type":"bar"},
      "encoding":{
       "x":{"field":"part","type":"nominal","sort":null,"scale":{"paddingInner":0.4232,"paddingOuter":0.2116},"axis":{"orient":"bottom","title":null,"labelAngle":0,"ticks":false,"domain":false,"labelPadding":12,"labelFontSize":14,"labelOffset":4}},
       "xOffset":{"field":"grp","type":"nominal","scale":{"domain":["З ожирінням","Без ожиріння"],"paddingInner":0,"paddingOuter":0}},
       "y":{"field":"mass","type":"quantitative","scale":{"domain":[0,76980],"nice":false},"axis":{"orient":"left","title":"г","titleAngle":0,"titleX":-35.9,"titleY":-1,"titleAlign":"center","titleBaseline":"middle","titleFontSize":14,"values":[0,10000,20000,30000,40000,50000,60000,70000],"labelOverlap":false,"labelExpr":"datum.value == 0 ? '0' : replace(format(datum.value, ','), ',', ' ')","grid":true,"gridColor":"#c9c9c9","domain":false,"tickColor":"#b5b5b5","tickSize":5,"labelPadding":8,"labelFontSize":14}},
       "color":{"field":"grp","type":"nominal","scale":{"domain":["З ожирінням","Без ожиріння"],"range":["#939598","#58585a"]},
        "legend":{"orient":"none","legendX":70,"legendY":275,"direction":"horizontal","title":null,"symbolType":"square","symbolSize":45,"symbolStrokeWidth":0,"labelFontSize":14,"labelOffset":6,"columnPadding":22,"padding":0}}}},
     {"mark":{"type":"text","baseline":"alphabetic","dy":-1,"fontSize":14,"color":"#231f20"},
      "encoding":{"x":{"field":"part","type":"nominal","sort":null,"axis":null},"xOffset":{"field":"grp","type":"nominal"},"y":{"field":"mass","type":"quantitative","axis":null},"text":{"field":"sig"}}}
    ]}
   ]},
  {"vconcat":[
   {"width":390,"height":1,"data":{"values":[{}]},"mark":{"type":"point","opacity":0,"size":0,"strokeWidth":0},"encoding":{},
    "title":{"text":["Рисунок 3. Показники жирової та знежиреної маси","всього тіла в обстежених чоловіків"],"orient":"top","anchor":"middle","frame":"group","offset":0,"dx":-10.4,"fontSize":18.5,"fontStyle":"italic","fontWeight":"bold","lineHeight":21.5}},
   {"width":390,"height":1,"data":{"values":[{}]},"mark":{"type":"point","opacity":0,"size":0,"strokeWidth":0},"encoding":{},
    "title":{"text":"Примітка: * — p < 0,05.","orient":"top","anchor":"start","frame":"group","offset":0,"dx":-63.9,"fontSize":18.5,"fontStyle":"italic","fontWeight":"bold"}}
  ],"spacing":21}
 ],"spacing":12,"resolve":{"scale":{"color":"independent"},"legend":{"color":"independent"}}}
 ],"spacing":29,"resolve":{"scale":{"color":"independent"},"legend":{"color":"independent"}}}
],"spacing":-92,"align":"none"},
{"vconcat":[
 {"vconcat":[
  {"hconcat":[
   {"width":390,"height":288,"view":{"stroke":"#1a1a1a","strokeWidth":1},
    "title":{"text":"А","orient":"bottom","anchor":"start","frame":"bounds","offset":0,"baseline":"top","dx":31,"dy":-42,"fontSize":21,"fontWeight":"normal"},
    "resolve":{"scale":{"x":"independent","y":"independent"}},
    "layer":[
     {"data":{"values":[{}]},"mark":{"type":"rule","color":"#231f20","strokeWidth":1.2},
      "encoding":{"x":{"datum":-0.23154,"type":"quantitative","scale":{"domain":[0,1],"nice":false,"zero":false},"axis":null},"x2":{"datum":1.06077},"y":{"datum":1.11111,"type":"quantitative","scale":{"domain":[0,1],"nice":false,"zero":false},"axis":null}}},
     {"data":{"values":[{}]},"mark":{"type":"rule","color":"#231f20","strokeWidth":1.2},
      "encoding":{"x":{"datum":-0.23154,"type":"quantitative","scale":{"domain":[0,1],"nice":false,"zero":false},"axis":null},"y":{"datum":1.11111,"type":"quantitative","scale":{"domain":[0,1],"nice":false,"zero":false},"axis":null},"y2":{"datum":-0.29514}}},
     {"resolve":{"axis":{"x":"independent","y":"independent"}},
      "layer":[
       {"data":{"name":"A"},"mark":{"type":"point","filled":false,"size":11,"strokeWidth":0.9,"color":"#1a1a1a","opacity":1},
        "encoding":{
         "x":{"field":"x","type":"quantitative","scale":{"domain":[0.4,2.2],"nice":false,"zero":false},"axis":{"orient":"bottom","values":[0.4,0.6,0.8,1,1.2,1.4,1.6,1.8,2,2.2],"labelExpr":"replace(format(datum.value, '.1f'), '.', ',')","ticks":false,"domain":false,"grid":true,"gridColor":"#7f7f7f","gridDash":[4,2],"gridWidth":0.8,"labelPadding":12,"labelFontSize":13,"title":"МЩКТ поперекового відділу хребта L₁–L₄, г/см²","titleFontSize":14,"titlePadding":11}},
         "y":{"field":"y","type":"quantitative","scale":{"domain":[0,60000],"nice":false},"axis":{"orient":"left","values":[0,10000,20000,30000,40000,50000,60000],"labelExpr":"datum.value == 0 ? '0' : replace(format(datum.value, ','), ',', ' ')","ticks":false,"domain":false,"grid":true,"gridColor":"#7f7f7f","gridDash":[4,2],"gridWidth":0.8,"labelPadding":7,"labelFontSize":13,"title":"Жирова маса, г","titleFontSize":14,"titlePadding":9}}}},
       {"data":{"name":"A_line"},"mark":{"type":"line","color":"#1a1a1a","strokeWidth":1},
        "encoding":{
         "x":{"field":"x","type":"quantitative","scale":{"domain":[0.4,2.2],"nice":false,"zero":false},"axis":{"orient":"bottom","values":[0.4,0.5,0.6,0.7,0.8,0.9,1,1.1,1.2,1.3,1.4,1.5,1.6,1.7,1.8,1.9,2,2.1,2.2],"labels":false,"tickSize":-4,"tickColor":"#1a1a1a","tickWidth":0.8,"domain":false,"grid":false,"title":null}},
         "y":{"field":"y","type":"quantitative","scale":{"domain":[0,60000],"nice":false},"axis":{"orient":"left","values":[0,2500,5000,7500,10000,12500,15000,17500,20000,22500,25000,27500,30000,32500,35000,37500,40000,42500,45000,47500,50000,52500,55000,57500,60000],"labels":false,"tickSize":-4,"tickColor":"#1a1a1a","tickWidth":0.8,"domain":false,"grid":false,"title":null}}}},
       {"data":{"name":"A_line"},"mark":{"type":"line","opacity":0},
        "encoding":{
         "x":{"field":"x","type":"quantitative","scale":{"domain":[0.4,2.2],"nice":false,"zero":false},"axis":{"orient":"top","values":[0.4,0.5,0.6,0.7,0.8,0.9,1,1.1,1.2,1.3,1.4,1.5,1.6,1.7,1.8,1.9,2,2.1,2.2],"labels":false,"tickSize":-4,"tickColor":"#1a1a1a","tickWidth":0.8,"domain":false,"grid":false,"title":null}},
         "y":{"field":"y","type":"quantitative","scale":{"domain":[0,60000],"nice":false},"axis":{"orient":"right","values":[0,2500,5000,7500,10000,12500,15000,17500,20000,22500,25000,27500,30000,32500,35000,37500,40000,42500,45000,47500,50000,52500,55000,57500,60000],"labels":false,"tickSize":-4,"tickColor":"#1a1a1a","tickWidth":0.8,"domain":false,"grid":false,"title":null}}}}
      ]}
    ]},
   {"width":410,"height":290,"view":{"stroke":"#1a1a1a","strokeWidth":1},
    "title":{"text":"Б","orient":"bottom","anchor":"start","frame":"bounds","offset":0,"baseline":"top","dx":25,"dy":-40,"fontSize":21,"fontWeight":"normal"},
    "resolve":{"scale":{"x":"independent","y":"independent"}},
    "layer":[
     {"data":{"values":[{}]},"mark":{"type":"rule","color":"#231f20","strokeWidth":1.2},
      "encoding":{"x":{"datum":-0.20805,"type":"quantitative","scale":{"domain":[0,1],"nice":false,"zero":false},"axis":null},"x2":{"datum":1.06268},"y":{"datum":1.11034,"type":"quantitative","scale":{"domain":[0,1],"nice":false,"zero":false},"axis":null}}},
     {"data":{"values":[{}]},"mark":{"type":"rule","color":"#231f20","strokeWidth":1.2},
      "encoding":{"x":{"datum":1.06268,"type":"quantitative","scale":{"domain":[0,1],"nice":false,"zero":false},"axis":null},"y":{"datum":1.11034,"type":"quantitative","scale":{"domain":[0,1],"nice":false,"zero":false},"axis":null},"y2":{"datum":-0.28966}}},
     {"resolve":{"axis":{"x":"independent","y":"independent"}},
      "layer":[
       {"data":{"name":"B"},"mark":{"type":"point","filled":false,"size":16,"strokeWidth":0.9,"color":"#1a1a1a","opacity":1},
        "encoding":{
         "x":{"field":"x","type":"quantitative","scale":{"domain":[0.4,1.6],"nice":false,"zero":false},"axis":{"orient":"bottom","values":[0.4,0.6,0.8,1,1.2,1.4,1.6],"labelExpr":"replace(format(datum.value, '.1f'), '.', ',')","ticks":false,"domain":false,"grid":true,"gridColor":"#7f7f7f","gridDash":[4,2],"gridWidth":0.8,"labelPadding":13,"labelFontSize":13,"title":"МЩКТ шийки стегнової кістки, г/см²","titleFontSize":14,"titlePadding":11}},
         "y":{"field":"y","type":"quantitative","scale":{"domain":[0,60000],"nice":false},"axis":{"orient":"left","values":[0,10000,20000,30000,40000,50000,60000],"labelExpr":"datum.value == 0 ? '0' : replace(format(datum.value, ','), ',', ' ')","ticks":false,"domain":false,"grid":true,"gridColor":"#7f7f7f","gridDash":[4,2],"gridWidth":0.8,"labelPadding":6,"labelFontSize":13,"title":"Жирова маса, г","titleFontSize":14,"titlePadding":9}}}},
       {"data":{"name":"B_line"},"mark":{"type":"line","color":"#1a1a1a","strokeWidth":1},
        "encoding":{
         "x":{"field":"x","type":"quantitative","scale":{"domain":[0.4,1.6],"nice":false,"zero":false},"axis":{"orient":"bottom","values":[0.4,0.5,0.6,0.7,0.8,0.9,1,1.1,1.2,1.3,1.4,1.5,1.6],"labels":false,"tickSize":-4,"tickColor":"#1a1a1a","tickWidth":0.8,"domain":false,"grid":false,"title":null}},
         "y":{"field":"y","type":"quantitative","scale":{"domain":[0,60000],"nice":false},"axis":{"orient":"left","values":[0,2500,5000,7500,10000,12500,15000,17500,20000,22500,25000,27500,30000,32500,35000,37500,40000,42500,45000,47500,50000,52500,55000,57500,60000],"labels":false,"tickSize":-4,"tickColor":"#1a1a1a","tickWidth":0.8,"domain":false,"grid":false,"title":null}}}},
       {"data":{"name":"B_line"},"mark":{"type":"line","opacity":0},
        "encoding":{
         "x":{"field":"x","type":"quantitative","scale":{"domain":[0.4,1.6],"nice":false,"zero":false},"axis":{"orient":"top","values":[0.4,0.5,0.6,0.7,0.8,0.9,1,1.1,1.2,1.3,1.4,1.5,1.6],"labels":false,"tickSize":-4,"tickColor":"#1a1a1a","tickWidth":0.8,"domain":false,"grid":false,"title":null}},
         "y":{"field":"y","type":"quantitative","scale":{"domain":[0,60000],"nice":false},"axis":{"orient":"right","values":[0,2500,5000,7500,10000,12500,15000,17500,20000,22500,25000,27500,30000,32500,35000,37500,40000,42500,45000,47500,50000,52500,55000,57500,60000],"labels":false,"tickSize":-4,"tickColor":"#1a1a1a","tickWidth":0.8,"domain":false,"grid":false,"title":null}}}}
      ]}
    ]}
  ],"spacing":-2},
  {"hconcat":[
   {"width":396,"height":290,"view":{"stroke":"#1a1a1a","strokeWidth":1},
    "title":{"text":"В","orient":"bottom","anchor":"start","frame":"bounds","offset":0,"baseline":"top","dx":29,"dy":-46,"fontSize":21,"fontWeight":"normal"},
    "resolve":{"scale":{"x":"independent","y":"independent"}},
    "layer":[
     {"data":{"values":[{}]},"mark":{"type":"rule","color":"#231f20","strokeWidth":1.2},
      "encoding":{"x":{"datum":-0.22803,"type":"quantitative","scale":{"domain":[0,1],"nice":false,"zero":false},"axis":null},"y":{"datum":1.09207,"type":"quantitative","scale":{"domain":[0,1],"nice":false,"zero":false},"axis":null},"y2":{"datum":-0.30103}}},
     {"data":{"values":[{}]},"mark":{"type":"rule","color":"#231f20","strokeWidth":1.2},
      "encoding":{"x":{"datum":-0.22803,"type":"quantitative","scale":{"domain":[0,1],"nice":false,"zero":false},"axis":null},"x2":{"datum":1.0447},"y":{"datum":-0.30103,"type":"quantitative","scale":{"domain":[0,1],"nice":false,"zero":false},"axis":null}}},
     {"resolve":{"axis":{"x":"independent","y":"independent"}},
      "layer":[
       {"data":{"name":"V"},"mark":{"type":"point","filled":false,"size":10,"strokeWidth":0.9,"color":"#1a1a1a","opacity":1},
        "encoding":{
         "x":{"field":"x","type":"quantitative","scale":{"domain":[0.7,1.6],"nice":false,"zero":false},"axis":{"orient":"bottom","values":[0.7,0.8,0.9,1,1.1,1.2,1.3,1.4,1.5,1.6],"labelExpr":"replace(format(datum.value, '.1f'), '.', ',')","ticks":false,"domain":false,"grid":true,"gridColor":"#7f7f7f","gridDash":[4,2],"gridWidth":0.8,"labelPadding":12,"labelFontSize":13,"title":"МЩКТ всього скелета, г/см²","titleFontSize":14,"titlePadding":11}},
         "y":{"field":"y","type":"quantitative","scale":{"domain":[0,60000],"nice":false},"axis":{"orient":"left","values":[0,10000,20000,30000,40000,50000,60000],"labelExpr":"datum.value == 0 ? '0' : replace(format(datum.value, ','), ',', ' ')","ticks":false,"domain":false,"grid":true,"gridColor":"#7f7f7f","gridDash":[4,2],"gridWidth":0.8,"labelPadding":7,"labelFontSize":13,"title":"Жирова маса, г","titleFontSize":14,"titlePadding":9}}}},
       {"data":{"name":"V_line"},"mark":{"type":"line","color":"#1a1a1a","strokeWidth":1},
        "encoding":{
         "x":{"field":"x","type":"quantitative","scale":{"domain":[0.7,1.6],"nice":false,"zero":false},"axis":{"orient":"bottom","values":[0.7,0.725,0.75,0.775,0.8,0.825,0.85,0.875,0.9,0.925,0.95,0.975,1,1.025,1.05,1.075,1.1,1.125,1.15,1.175,1.2,1.225,1.25,1.275,1.3,1.325,1.35,1.375,1.4,1.425,1.45,1.475,1.5,1.525,1.55,1.575,1.6],"labels":false,"tickSize":-4,"tickColor":"#1a1a1a","tickWidth":0.8,"domain":false,"grid":false,"title":null}},
         "y":{"field":"y","type":"quantitative","scale":{"domain":[0,60000],"nice":false},"axis":{"orient":"left","values":[0,2500,5000,7500,10000,12500,15000,17500,20000,22500,25000,27500,30000,32500,35000,37500,40000,42500,45000,47500,50000,52500,55000,57500,60000],"labels":false,"tickSize":-4,"tickColor":"#1a1a1a","tickWidth":0.8,"domain":false,"grid":false,"title":null}}}},
       {"data":{"name":"V_line"},"mark":{"type":"line","opacity":0},
        "encoding":{
         "x":{"field":"x","type":"quantitative","scale":{"domain":[0.7,1.6],"nice":false,"zero":false},"axis":{"orient":"top","values":[0.7,0.725,0.75,0.775,0.8,0.825,0.85,0.875,0.9,0.925,0.95,0.975,1,1.025,1.05,1.075,1.1,1.125,1.15,1.175,1.2,1.225,1.25,1.275,1.3,1.325,1.35,1.375,1.4,1.425,1.45,1.475,1.5,1.525,1.55,1.575,1.6],"labels":false,"tickSize":-4,"tickColor":"#1a1a1a","tickWidth":0.8,"domain":false,"grid":false,"title":null}},
         "y":{"field":"y","type":"quantitative","scale":{"domain":[0,60000],"nice":false},"axis":{"orient":"right","values":[0,2500,5000,7500,10000,12500,15000,17500,20000,22500,25000,27500,30000,32500,35000,37500,40000,42500,45000,47500,50000,52500,55000,57500,60000],"labels":false,"tickSize":-4,"tickColor":"#1a1a1a","tickWidth":0.8,"domain":false,"grid":false,"title":null}}}}
      ]}
    ]},
   {"width":400,"height":296,"view":{"stroke":"#1a1a1a","strokeWidth":1},
    "title":{"text":"Г","orient":"bottom","anchor":"start","frame":"bounds","offset":0,"baseline":"top","dx":28,"dy":-46,"fontSize":21,"fontWeight":"normal"},
    "resolve":{"scale":{"x":"independent","y":"independent"}},
    "layer":[
     {"data":{"values":[{}]},"mark":{"type":"rule","color":"#231f20","strokeWidth":1.2},
      "encoding":{"x":{"datum":1.09,"type":"quantitative","scale":{"domain":[0,1],"nice":false,"zero":false},"axis":null},"y":{"datum":1.09122,"type":"quantitative","scale":{"domain":[0,1],"nice":false,"zero":false},"axis":null},"y2":{"datum":-0.27365}}},
     {"data":{"values":[{}]},"mark":{"type":"rule","color":"#231f20","strokeWidth":1.2},
      "encoding":{"x":{"datum":-0.2125,"type":"quantitative","scale":{"domain":[0,1],"nice":false,"zero":false},"axis":null},"x2":{"datum":1.09},"y":{"datum":-0.27365,"type":"quantitative","scale":{"domain":[0,1],"nice":false,"zero":false},"axis":null}}},
     {"resolve":{"axis":{"x":"independent","y":"independent"}},
      "layer":[
       {"data":{"name":"G"},"mark":{"type":"point","filled":false,"size":10,"strokeWidth":0.9,"color":"#1a1a1a","opacity":1},
        "encoding":{
         "x":{"field":"x","type":"quantitative","scale":{"domain":[0.2,0.8],"nice":false,"zero":false},"axis":{"orient":"bottom","values":[0.2,0.3,0.4,0.5,0.6,0.7,0.8],"labelExpr":"replace(format(datum.value, '.1f'), '.', ',')","ticks":false,"domain":false,"grid":true,"gridColor":"#7f7f7f","gridDash":[4,2],"gridWidth":0.8,"labelPadding":13,"labelFontSize":13,"title":"МЩКТ ультрадистального відділу кісток передпліччя, г/см²","titleFontSize":14,"titlePadding":10}},
         "y":{"field":"y","type":"quantitative","scale":{"domain":[0,60000],"nice":false},"axis":{"orient":"left","values":[0,10000,20000,30000,40000,50000,60000],"labelExpr":"datum.value == 0 ? '0' : replace(format(datum.value, ','), ',', ' ')","ticks":false,"domain":false,"grid":true,"gridColor":"#7f7f7f","gridDash":[4,2],"gridWidth":0.8,"labelPadding":7,"labelFontSize":13,"title":"Жирова маса, г","titleFontSize":14,"titlePadding":9}}}},
       {"data":{"name":"G_line"},"mark":{"type":"line","color":"#1a1a1a","strokeWidth":1},
        "encoding":{
         "x":{"field":"x","type":"quantitative","scale":{"domain":[0.2,0.8],"nice":false,"zero":false},"axis":{"orient":"bottom","values":[0.2,0.225,0.25,0.275,0.3,0.325,0.35,0.375,0.4,0.425,0.45,0.475,0.5,0.525,0.55,0.575,0.6,0.625,0.65,0.675,0.7,0.725,0.75,0.775,0.8],"labels":false,"tickSize":-4,"tickColor":"#1a1a1a","tickWidth":0.8,"domain":false,"grid":false,"title":null}},
         "y":{"field":"y","type":"quantitative","scale":{"domain":[0,60000],"nice":false},"axis":{"orient":"left","values":[0,2500,5000,7500,10000,12500,15000,17500,20000,22500,25000,27500,30000,32500,35000,37500,40000,42500,45000,47500,50000,52500,55000,57500,60000],"labels":false,"tickSize":-4,"tickColor":"#1a1a1a","tickWidth":0.8,"domain":false,"grid":false,"title":null}}}},
       {"data":{"name":"G_line"},"mark":{"type":"line","opacity":0},
        "encoding":{
         "x":{"field":"x","type":"quantitative","scale":{"domain":[0.2,0.8],"nice":false,"zero":false},"axis":{"orient":"top","values":[0.2,0.225,0.25,0.275,0.3,0.325,0.35,0.375,0.4,0.425,0.45,0.475,0.5,0.525,0.55,0.575,0.6,0.625,0.65,0.675,0.7,0.725,0.75,0.775,0.8],"labels":false,"tickSize":-4,"tickColor":"#1a1a1a","tickWidth":0.8,"domain":false,"grid":false,"title":null}},
         "y":{"field":"y","type":"quantitative","scale":{"domain":[0,60000],"nice":false},"axis":{"orient":"right","values":[0,2500,5000,7500,10000,12500,15000,17500,20000,22500,25000,27500,30000,32500,35000,37500,40000,42500,45000,47500,50000,52500,55000,57500,60000],"labels":false,"tickSize":-4,"tickColor":"#1a1a1a","tickWidth":0.8,"domain":false,"grid":false,"title":null}}}}
      ]}
    ]}
  ],"spacing":-2}
 ],"spacing":-6},
 {"vconcat":[
  {"width":1025,"height":1,"data":{"values":[{}]},"mark":{"type":"point","opacity":0,"size":0,"strokeWidth":0},"encoding":{},
   "title":{"text":["Рисунок 4. Зв’язок між показником жирової маси та мінеральної щільності кісткової тканини","в обстежених чоловіків на рівні поперекового відділу хребта (А), шийки стегнової кістки (Б),","усього скелета (В) та ультрадистального відділу кісток передпліччя (Г)"],"orient":"top","anchor":"middle","frame":"group","offset":0,"dx":-88,"fontSize":18.5,"fontStyle":"italic","fontWeight":"bold","lineHeight":21}},
  {"width":1025,"height":1,"data":{"values":[{}]},"mark":{"type":"point","opacity":0,"size":0,"strokeWidth":0},"encoding":{},
   "title":{"text":["Примітка: зв’язок описаний за допомогою рівняння лінійної регресії: А) жирова маса, г = 8667,28 + 12,96 ×","× МЩКТ ПВХ (L₁–L₄), г/см² (r = 0,32; p < 0,001); Б) жирова маса, г = 7290,34 + 18161,03 × МЩКТ ШСК, г/см² (r = 0,29;","p < 0,001); В) жирова маса, г = –19492,08 + 36092,98 × МЩКТ ВС, г/см² (r = 0,45; p < 0,001); Г) жирова маса,","г = 7371,53 + 33035,54 × МЩКТ КП, г/см² (r = 0,34; p < 0,001)."],"orient":"top","anchor":"start","frame":"group","offset":0,"dx":-90.3,"fontSize":18.2,"fontStyle":"italic","fontWeight":"bold","lineHeight":22.3}}
 ],"spacing":21}
],"spacing":12}
],
"config":{
 "view":{"stroke":null},
 "font":"Liberation Sans",
 "axis":{"labelFont":"Liberation Sans","titleFont":"Liberation Sans","labelColor":"#231f20","titleColor":"#231f20","titleFontWeight":"normal"},
 "legend":{"labelFont":"Liberation Sans","labelColor":"#231f20"},
 "title":{"font":"Liberation Sans","color":"#231f20"}
}
}
